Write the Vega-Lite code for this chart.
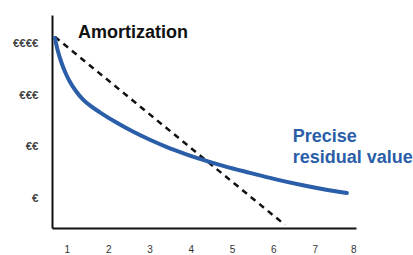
{
  "$schema": "https://vega.github.io/schema/vega-lite/v6.json",
  "width": 304,
  "height": 213,
  "autosize": {"type": "none"},
  "padding": {"left": 52, "top": 15, "right": 57, "bottom": 27},
  "background": "white",
  "config": {"view": {"stroke": null}, "font": "Liberation Sans"},
  "datasets": {
    "residual": [
      {"year": 0.709, "value": 4.096},
      {"year": 0.782, "value": 3.848},
      {"year": 0.879, "value": 3.602},
      {"year": 0.976, "value": 3.410},
      {"year": 1.073, "value": 3.256},
      {"year": 1.218, "value": 3.077},
      {"year": 1.387, "value": 2.915},
      {"year": 1.581, "value": 2.785},
      {"year": 1.799, "value": 2.667},
      {"year": 2.211, "value": 2.465},
      {"year": 2.598, "value": 2.296},
      {"year": 3.010, "value": 2.138},
      {"year": 3.421, "value": 1.998},
      {"year": 3.857, "value": 1.869},
      {"year": 4.220, "value": 1.771},
      {"year": 4.826, "value": 1.627},
      {"year": 5.431, "value": 1.502},
      {"year": 6.036, "value": 1.381},
      {"year": 6.714, "value": 1.262},
      {"year": 7.247, "value": 1.181},
      {"year": 7.780, "value": 1.113}
    ],
    "amort": [
      {"year": 0.71, "value": 4.12},
      {"year": 6.28, "value": 0.50}
    ],
    "labels": [
      {"year": 1.27, "value": 4.19, "text": "Amortization", "kind": "title"},
      {"year": 6.47, "value": 2.19, "text": "Precise", "kind": "series"},
      {"year": 6.47, "value": 1.79, "text": "residual value", "kind": "series"}
    ]
  },
  "encoding": {
    "x": {
      "field": "year", "type": "quantitative",
      "scale": {"domain": [0.64, 8], "nice": false, "zero": false},
      "axis": {
        "title": null, "values": [1, 2, 3, 4, 5, 6, 7, 8], "grid": false, "ticks": false,
        "domainColor": "#111", "domainWidth": 2, "labelPadding": 16,
        "labelFontSize": 10, "labelColor": "#333", "labelFont": "Liberation Sans"
      }
    },
    "y": {
      "field": "value", "type": "quantitative",
      "scale": {"domain": [0.44, 4.54], "nice": false, "zero": false},
      "axis": {
        "title": null, "values": [1, 2, 3, 4], "grid": false, "ticks": false,
        "domainColor": "#111", "domainWidth": 2, "labelPadding": 14,
        "labelFontSize": 11.5, "labelFontWeight": "bold", "labelColor": "#444", "labelFont": "Liberation Sans",
        "labelExpr": "datum.value == 1 ? '€' : datum.value == 2 ? '€€' : datum.value == 3 ? '€€€' : '€€€€'"
      }
    }
  },
  "layer": [
    {
      "data": {"name": "amort"},
      "mark": {"type": "line", "color": "#111", "strokeWidth": 2.5, "strokeDash": [6, 5]}
    },
    {
      "data": {"name": "residual"},
      "mark": {"type": "line", "color": "#2b5ea8", "strokeWidth": 4, "interpolate": "monotone", "strokeCap": "round"}
    },
    {
      "data": {"name": "labels"},
      "mark": {"type": "text", "align": "left", "baseline": "middle", "fontSize": 18, "fontWeight": "bold", "font": "Liberation Sans"},
      "encoding": {
        "text": {"field": "text"},
        "color": {
          "field": "kind", "type": "nominal",
          "scale": {"domain": ["title", "series"], "range": ["#111111", "#2b5ea8"]},
          "legend": null
        }
      }
    }
  ]
}
